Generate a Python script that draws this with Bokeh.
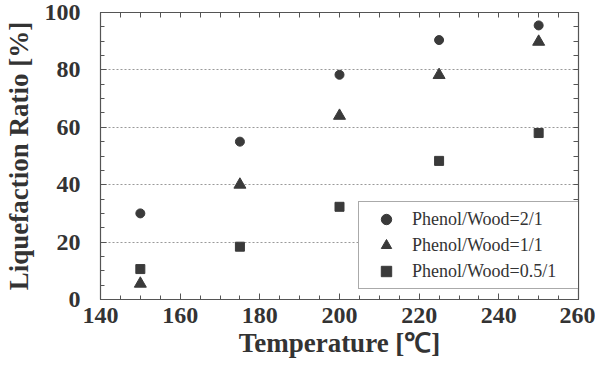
from bokeh.plotting import figure
from bokeh.models import LinearAxis, Legend, LegendItem, FixedTicker, Range1d
from bokeh.embed import file_html
from bokeh.resources import INLINE

temps = [150, 175, 200, 225, 250]
ratio_2_1 = [30, 55, 78.3, 90.4, 95.5]
ratio_1_1 = [5.5, 40, 64, 78.2, 89.8]
ratio_05_1 = [10.6, 18.4, 32.3, 48.3, 58]
labels = ["Phenol/Wood=2/1", "Phenol/Wood=1/1", "Phenol/Wood=0.5/1"]

FONT = "Liberation Serif"
DARK = "#3a3a3a"
AX = "#555555"

p = figure(width=595, height=366, output_backend="svg", toolbar_location=None,
           x_range=Range1d(140, 260), y_range=Range1d(0, 100),
           min_border_left=95, min_border_right=17, min_border_top=12, min_border_bottom=67)

p.outline_line_color = AX
p.outline_line_width = 1.2
p.background_fill_color = "white"
p.border_fill_color = "white"

c = p.scatter(temps, ratio_2_1, marker="circle", size=9, color=DARK)
t = p.scatter(temps, ratio_1_1, marker="triangle", size=12, color=DARK)
s = p.scatter(temps, ratio_05_1, marker="square", size=9, color=DARK)

def style_axis(ax):
    ax.axis_line_color = AX
    ax.major_tick_line_color = AX
    ax.minor_tick_line_color = AX
    ax.major_tick_in = 6
    ax.major_tick_out = 0
    ax.minor_tick_in = 4
    ax.minor_tick_out = 0
    ax.major_label_text_font = FONT
    ax.major_label_text_font_style = "bold"
    ax.major_label_text_font_size = "24px"
    ax.major_label_text_color = "#333333"
    ax.axis_label_text_font = FONT
    ax.axis_label_text_font_style = "bold"
    ax.axis_label_text_font_size = "27px"
    ax.axis_label_text_color = "#333333"

xt = FixedTicker(ticks=[140, 160, 180, 200, 220, 240, 260],
                 minor_ticks=list(range(140, 261, 5)))
yt = FixedTicker(ticks=[0, 20, 40, 60, 80, 100], minor_ticks=list(range(0, 101, 5)))

xa = p.xaxis[0]
xa.ticker = xt
style_axis(xa)
xa.axis_label = "Temperature [℃]"
xa.major_label_standoff = 8
xa.axis_label_standoff = 2

ya = p.yaxis[0]
ya.ticker = yt
style_axis(ya)
ya.axis_label = "Liquefaction Ratio [%]"
ya.major_label_standoff = 20
ya.axis_label_standoff = 8

# mirror ticks (no labels): only minor ticks on opposite sides
def mirror_axis(minor):
    ax = LinearAxis(ticker=FixedTicker(ticks=[], minor_ticks=minor))
    ax.axis_line_color = AX
    ax.minor_tick_line_color = AX
    ax.minor_tick_in = 5
    ax.minor_tick_out = 0
    ax.major_tick_in = 0
    ax.major_tick_out = 0
    ax.major_label_standoff = 0
    return ax

p.add_layout(mirror_axis(list(range(140, 261, 5))), "above")
p.add_layout(mirror_axis(list(range(0, 101, 5))), "right")

p.xgrid.visible = False
p.ygrid.ticker = FixedTicker(ticks=[20, 40, 60, 80])
p.ygrid.grid_line_color = "#999999"
p.ygrid.grid_line_dash = "2 2"
p.ygrid.grid_line_width = 1

legend = Legend(items=[LegendItem(label=labels[0], renderers=[c]),
                       LegendItem(label=labels[1], renderers=[t]),
                       LegendItem(label=labels[2], renderers=[s])],
                location=(258, 10))
legend.label_text_font = FONT
legend.label_text_font_size = "18px"
legend.label_text_color = "#333333"
legend.border_line_color = AX
legend.border_line_width = 1.2
legend.padding = 4
legend.margin = 0
legend.spacing = 0
legend.label_height = 26
legend.glyph_height = 26
legend.glyph_width = 46
legend.label_standoff = 3
legend.label_width = 165
legend.background_fill_alpha = 1
p.add_layout(legend, "center")

open("out.html", "w").write(file_html(p, INLINE))
